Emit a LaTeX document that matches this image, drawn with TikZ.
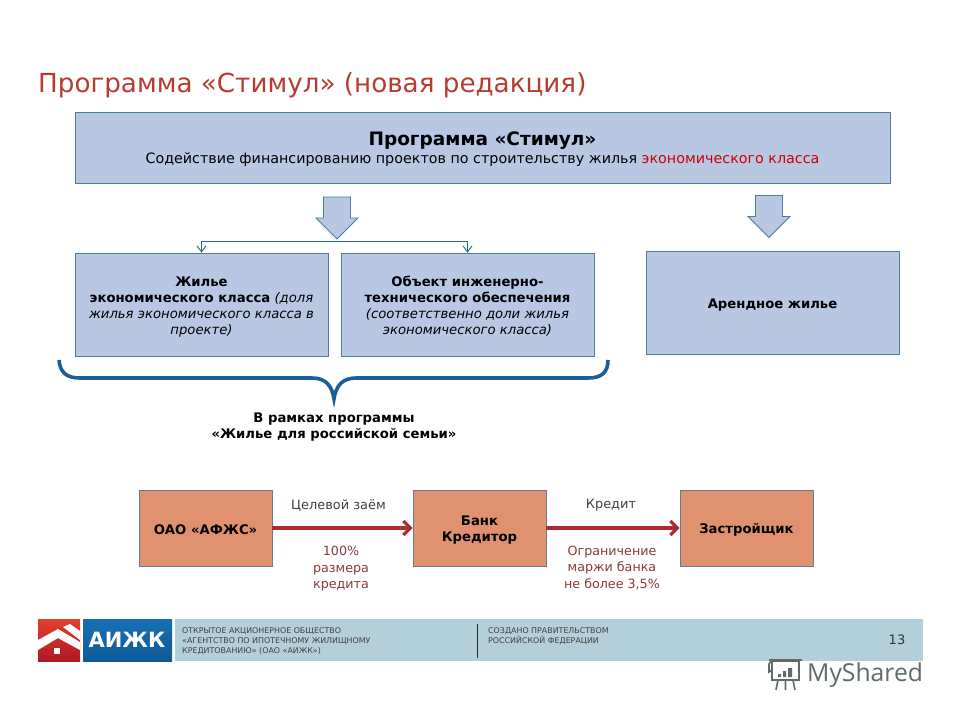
\documentclass[tikz,border=0pt]{standalone}
\usepackage{fontspec}
\setmainfont{DejaVu Sans}
\newfontfamily\markfont{Open Sans}
\usetikzlibrary{arrows.meta}
\definecolor{boxblue}{HTML}{B8C8E2}
\definecolor{boxline}{HTML}{4A7EA0}
\definecolor{boxorange}{HTML}{E0916F}
\definecolor{titlered}{HTML}{B83A30}
\definecolor{arrowred}{HTML}{A82C30}
\definecolor{notered}{HTML}{8A3A3A}
\definecolor{bracecol}{HTML}{1C5F98}
\definecolor{forkcol}{HTML}{1F6E9C}
\definecolor{barcol}{HTML}{B4CFDC}
\definecolor{markgrey}{HTML}{5F6B68}
\definecolor{logored}{HTML}{E2402C}
\definecolor{logodark}{HTML}{B01828}
\definecolor{logoblue}{HTML}{1670B4}
\definecolor{logodeep}{HTML}{0E5A98}
\newcommand{\boxstrut}{\rule{0pt}{14pt}}
\tikzset{
    bluebox/.style={draw=boxline, fill=boxblue, line width=0.8pt, minimum width=253pt, minimum height=103pt,
        align=center, inner sep=0pt, font=\fontsize{13.2}{16}\selectfont},
    orangebox/.style={draw=boxline!60!gray, fill=boxorange, line width=0.8pt, minimum width=133pt, minimum height=76pt,
        align=center, inner sep=0pt, font=\fontsize{13.2}{16}\selectfont\bfseries},
    blockarrow/.pic={
        \draw[boxline, fill=boxblue, line width=0.8pt] (-13.5,-21) -- (13.5,-21) -- (13.5,0) -- (21,0) -- (0,21)
            -- (-21,0) -- (-13.5,0) -- cycle;
    },
    forkarrow/.style={draw=forkcol, line width=0.9pt, -{Straight Barb[length=6pt,width=9pt]}},
    redarrow/.style={draw=arrowred, line width=3.2pt, -{Straight Barb[length=7pt,width=14pt]}},
    notetext/.style={align=center, inner sep=0pt, text=notered, font=\fontsize{12.7}{16.5}\selectfont},
    footertext/.style={align=left, anchor=west, inner sep=0pt, text=black!75, font=\fontsize{7.9}{10}\selectfont},
}
\begin{document}
\begin{tikzpicture}[x=1pt, y=-1pt]
    \useasboundingbox (0,0) rectangle (960,720);

    \node[anchor=west, inner sep=0pt, text=titlered, font=\fontsize{26.2}{30}\selectfont] (title) at (38,85) {Программа «Стимул» (новая редакция)};

    % top box
    \node[bluebox, minimum width=815pt, minimum height=71pt, font=\fontsize{14.3}{19}\selectfont] (programma) at (482.5,147.5)
        {\rule{0pt}{17pt}{\fontsize{18.5}{19}\selectfont\bfseries Программа «Стимул»}\\[-1pt]Содействие финансированию проектов по строительству жилья \textcolor{red!80!black}{экономического класса}};

    \pic at (337,218) {blockarrow};
    \pic at (769,216.5) {blockarrow};

    \node[bluebox] (zhilye) at (201.5,304.5)
        {\boxstrut\textbf{Жилье}\\\textbf{экономического класса} \textit{(доля}\\\textit{жилья экономического класса в}\\\textit{проекте)}};
    \node[bluebox] (obekt) at (467.5,304.5)
        {\boxstrut\textbf{Объект инженерно-}\\\textbf{технического обеспечения}\\\textit{(соответственно доли жилья}\\\textit{экономического класса)}};
    \node[bluebox] (arenda) at (772.5,303)
        {\boxstrut\textbf{Арендное жилье}};

    \coordinate (fork) at (337,241);
    \draw[forkarrow] (fork) -| (zhilye.north);
    \draw[forkarrow] (fork) -| (obekt.north);

    % brace
    \draw[bracecol, line width=3.6pt] (59,360) .. controls (60,372) and (66,378) .. (80,378) -- (312,378)
        .. controls (325,378) and (332,385) .. (334,399) .. controls (336,385) and (343,378) .. (356,378)
        -- (588,378) .. controls (602,378) and (608,372) .. (608,360);
    \node[align=center, inner sep=0pt, font=\fontsize{13.2}{16}\selectfont\bfseries] (ramki) at (334,427)
        {В рамках программы\\«Жилье для российской семьи»};

    % bottom row
    \node[orangebox] (afzs) at (205.5,528) {\boxstrut ОАО «АФЖС»};
    \node[orangebox] (bank) at (479.5,528) {\boxstrut Банк\\Кредитор};
    \node[orangebox] (zastr) at (746.5,528) {\boxstrut Застройщик};
    \draw[redarrow] (afzs) -- (bank);
    \draw[redarrow] (bank) -- (zastr);

    \node[inner sep=0pt, text=black!75, font=\fontsize{12.9}{14}\selectfont] (zaem) at (338.5,506) {Целевой заём};
    \node[inner sep=0pt, text=black!75, font=\fontsize{12.9}{14}\selectfont] (kredit) at (611,505) {Кредит};
    \node[notetext] (razmer) at (341,569) {100\%\\размера\\кредита};
    \node[notetext] (marzha) at (612,568) {Ограничение\\маржи банка\\не более 3,5\%};

    % footer
    \fill[barcol] (175,619) rectangle (923,661);
    \shade[top color=logored, bottom color=logodark] (38,619) rectangle (80,661);
    \shade[top color=logoblue, bottom color=logodeep] (83,619) rectangle (172,661);
    \fill[white] (38,640) -- (58,629) -- (80,642) -- (80,650) -- (58,638) -- (38,650) -- cycle;
    \fill[white] (63,627) -- (70,624) -- (80,631) -- (80,640) -- cycle;
    \fill[white] (54,648) rectangle (60,654);
    \node[text=white, inner sep=0pt, font=\fontsize{21}{21}\selectfont\bfseries] (aizhk) at (127,640) {АИЖК};
    \node[footertext] (aizhkname) at (182,641) {ОТКРЫТОЕ АКЦИОНЕРНОЕ ОБЩЕСТВО\\«АГЕНТСТВО ПО ИПОТЕЧНОМУ ЖИЛИЩНОМУ\\КРЕДИТОВАНИЮ» (ОАО «АИЖК»)};
    \draw[black!85, line width=0.9pt] (477,624) -- (477,658);
    \node[footertext] (sozdano) at (488,636) {СОЗДАНО ПРАВИТЕЛЬСТВОМ\\РОССИЙСКОЙ ФЕДЕРАЦИИ};
    \node[inner sep=0pt, text=black!80, font=\fontsize{13}{15}\selectfont] (pagenum) at (897,639.5) {13};

    % watermark
    \draw[markgrey, line width=1.6pt] (772,661) rectangle (799,680);
    \draw[markgrey, line width=1.6pt] (769,660) -- (802,660);
    \draw[markgrey, line width=1.6pt] (773,659) -- (769,664) -- (769,672) -- (772,670);
    \draw[markgrey, line width=1.6pt] (778,680) -- (776,690) (785.5,680) -- (785.5,690) (793,680) -- (795,690);
    \fill[markgrey] (778,674) rectangle (781,677) (783,671) rectangle (786,677) (788,668) rectangle (792,677);
    \node[anchor=west, inner sep=0pt, text=markgrey, font=\markfont\fontsize{24.7}{30}\selectfont] (myshared) at (807,675) {MyShared};
\end{tikzpicture}
\end{document}
